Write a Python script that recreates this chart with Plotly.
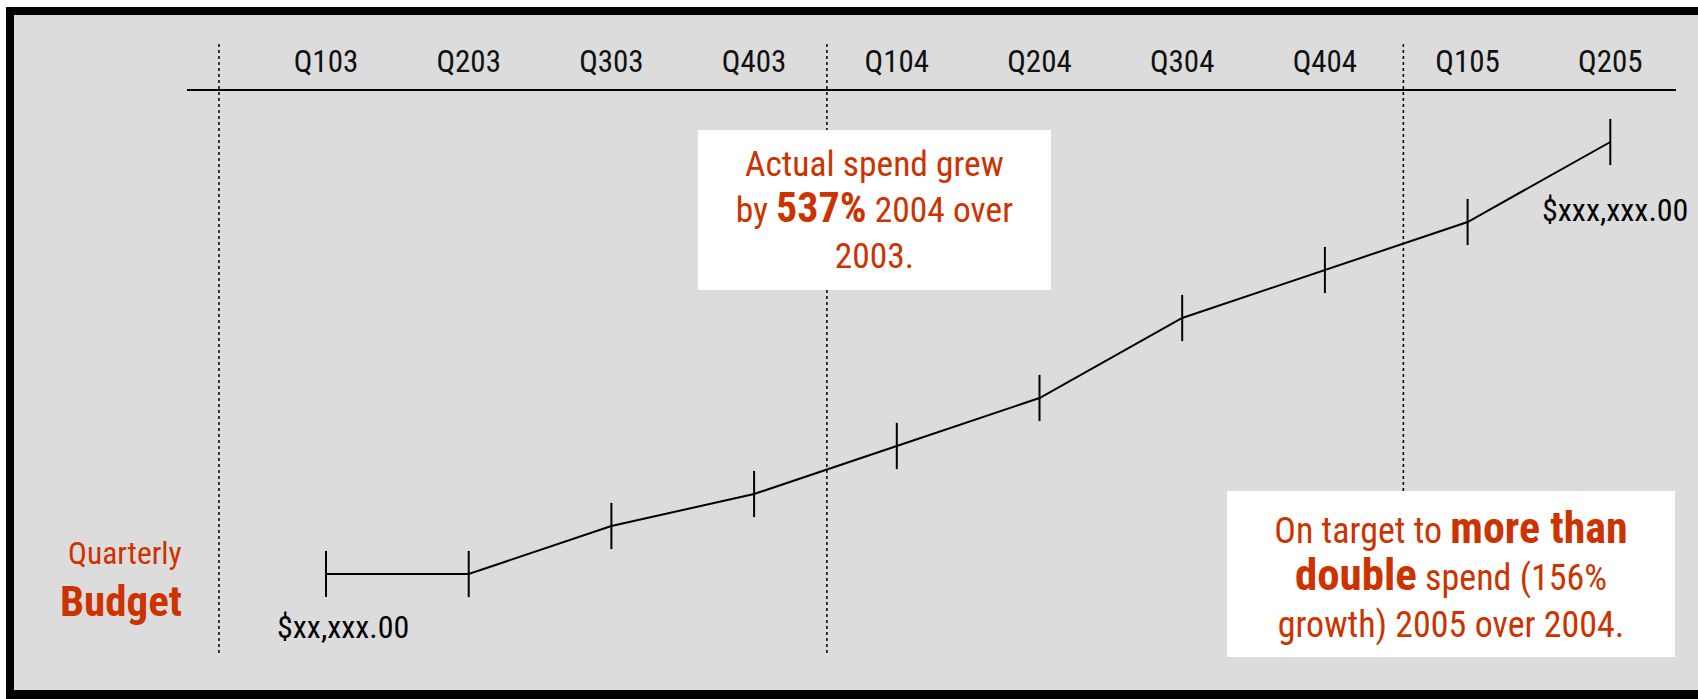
import plotly.graph_objects as go

# ---- data ----
quarters = ["Q103", "Q203", "Q303", "Q403", "Q104", "Q204", "Q304", "Q404", "Q105", "Q205"]
budget_index = [26, 26, 74, 106, 154, 202, 282, 330, 378, 458]   # relative quarterly budget (schematic)
first_label = "$xx,xxx.00"
last_label = "$xxx,xxx.00"
year_breaks = [-0.75, 3.51, 7.55]

W, H = 1698, 699
FONT = "Roboto Condensed, Liberation Sans, Arial, sans-serif"
RED = "#CC3300"
BG = "#DCDCDC"

def px_x(p):
    return p / W

def px_y(p):
    return 1 - p / H

xs = list(range(len(quarters)))

fig = go.Figure()
fig.add_trace(go.Scatter(
    x=xs, y=budget_index, mode="lines+markers",
    line=dict(color="black", width=2),
    marker=dict(symbol="line-ns", size=33, line=dict(color="black", width=2), color="black"),
    hoverinfo="skip", showlegend=False,
))

def rect(x0, x1, y0, y1, color):
    return dict(type="rect", xref="paper", yref="paper", layer="below",
                x0=px_x(x0), x1=px_x(x1), y0=px_y(y1), y1=px_y(y0),
                line=dict(width=0), fillcolor=color)

shapes = [
    rect(6, W, 7, H, BG),          # grey panel
    rect(6, W, 7, 15, "black"),    # top border
    rect(6, 14, 7, H, "black"),    # left border
    rect(6, W, 690, H, "black"),   # bottom border
]
for xb in year_breaks:
    shapes.append(dict(type="line", xref="x", yref="paper", layer="below",
                       x0=xb, x1=xb, y0=px_y(653), y1=px_y(42),
                       line=dict(color="black", width=1.5, dash="dot")))

annotations = [
    dict(xref="paper", yref="paper", x=px_x(874.5), y=px_y(210),
         xanchor="center", yanchor="middle", width=353, height=160,
         bgcolor="white", borderpad=0, borderwidth=0, showarrow=False, align="center",
         text="Actual spend grew<br>by <b><span style='font-size:42px'>537%</span></b> 2004 over<br>2003.",
         font=dict(family=FONT, size=35.5, color=RED)),
    dict(xref="paper", yref="paper", x=px_x(1451), y=px_y(574),
         xanchor="center", yanchor="middle", width=448, height=166,
         bgcolor="white", borderpad=0, borderwidth=0, showarrow=False, align="center",
         text="On target to <b><span style='font-size:44px'>more than</span></b><br><b><span style='font-size:45px'>double</span></b> spend (156%<br>growth) 2005 over 2004.",
         font=dict(family=FONT, size=36, color=RED)),
    dict(xref="paper", yref="paper", x=px_x(184), y=px_y(553),
         xanchor="right", yanchor="middle", showarrow=False,
         text="Quarterly", font=dict(family=FONT, size=31.5, color=RED)),
    dict(xref="paper", yref="paper", x=px_x(184), y=px_y(601),
         xanchor="right", yanchor="middle", showarrow=False,
         text="<b>Budget</b>", font=dict(family=FONT, size=43, color=RED)),
    dict(x=xs[0], y=budget_index[0], xref="x", yref="y", xanchor="left", yanchor="middle",
         xshift=-51, yshift=-53, showarrow=False, text=first_label,
         font=dict(family=FONT, size=32, color="black")),
    dict(x=xs[-1], y=budget_index[-1], xref="x", yref="y", xanchor="left", yanchor="middle",
         xshift=-70, yshift=-68, showarrow=False, text=last_label,
         font=dict(family=FONT, size=32, color="black")),
]

x0_px, x1_px, step = 326.0, 1676.0, 142.7
fig.update_layout(
    width=W, height=H,
    margin=dict(l=0, r=0, t=0, b=0),
    paper_bgcolor="white", plot_bgcolor="rgba(0,0,0,0)",
    shapes=shapes, annotations=annotations,
    xaxis=dict(
        domain=[187 / W, 1676 / W],
        range=[(187 - x0_px) / step, (1676 - x0_px) / step],
        tickmode="array", tickvals=xs, ticktext=quarters,
        side="top", showline=True, linecolor="black", linewidth=2,
        ticks="outside", ticklen=5, tickcolor="rgba(0,0,0,0)",
        showgrid=False, zeroline=False,
        tickfont=dict(family=FONT, size=31, color="#111111"),
    ),
    yaxis=dict(
        domain=[9 / H, 1 - 91 / H],
        range=[-90, 509],
        visible=False, showgrid=False, zeroline=False,
    ),
)

fig.write_html("out.html", config={"displayModeBar": False},
               post_script="document.body.style.margin='0px';")
